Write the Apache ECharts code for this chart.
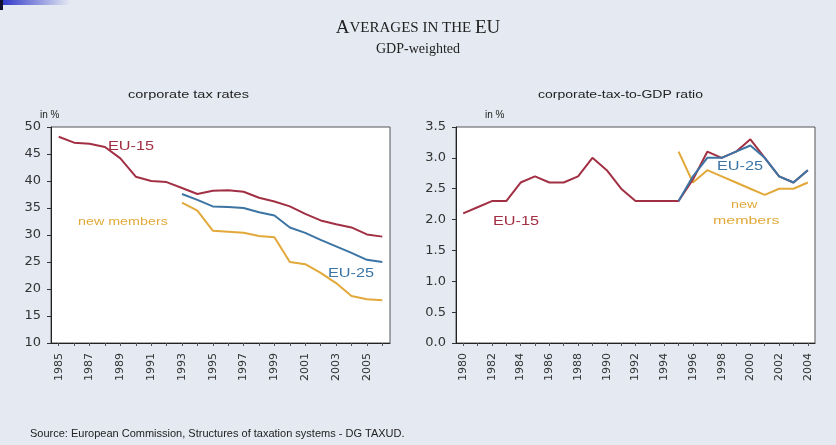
<!DOCTYPE html>
<html><head><meta charset="utf-8">
<script src="https://cdn.jsdelivr.net/npm/echarts@6/dist/echarts.min.js"></script>
<style>html,body{margin:0;padding:0;background:#e4e9f2;}#c{width:836px;height:445px;}</style>
</head><body><div id="c"></div>
<script>
const yearsL = ['1985','1986','1987','1988','1989','1990','1991','1992','1993','1994','1995','1996','1997','1998','1999','2000','2001','2002','2003','2004','2005','2006'];
const eu15Rate = [48.2,47.1,46.9,46.3,44.2,40.8,40.0,39.8,38.7,37.6,38.2,38.3,38.0,36.9,36.2,35.3,33.9,32.7,32.0,31.4,30.1,29.7];
const eu25Rate = [null,null,null,null,null,null,null,null,37.6,36.5,35.3,35.2,35.0,34.2,33.6,31.4,30.4,29.1,27.9,26.7,25.4,25.0];
const newRate  = [null,null,null,null,null,null,null,null,36.0,34.5,30.8,30.6,30.4,29.8,29.6,25.0,24.6,23.0,21.1,18.7,18.1,17.9];

const yearsR = ['1980','1981','1982','1983','1984','1985','1986','1987','1988','1989','1990','1991','1992','1993','1994','1995','1996','1997','1998','1999','2000','2001','2002','2003','2004'];
const eu15Gdp = [2.1,2.2,2.3,2.3,2.6,2.7,2.6,2.6,2.7,3.0,2.8,2.5,2.3,2.3,2.3,2.3,2.65,3.1,3.0,3.1,3.3,3.0,2.7,2.6,2.8];
const eu25Gdp = [null,null,null,null,null,null,null,null,null,null,null,null,null,null,null,2.3,2.7,3.0,3.0,3.1,3.2,3.0,2.7,2.6,2.8];
const newGdp  = [null,null,null,null,null,null,null,null,null,null,null,null,null,null,null,3.1,2.6,2.8,2.7,2.6,2.5,2.4,2.5,2.5,2.6];

const C15 = '#a23044', C25 = '#3c74a4', CNEW = '#e2a93a';
const chart = echarts.init(document.getElementById('c'));
const FONT = 'DejaVu Sans, Liberation Sans, Arial, sans-serif';
function xAxis(idx, data){
  return {type:'category', gridIndex:idx, data:data, boundaryGap:true,
    axisLine:{lineStyle:{color:'#222'}}, axisTick:{show:true, alignWithLabel:true, interval:0, length:3, lineStyle:{color:'#555'}},
    axisLabel:{rotate:90, interval:1, margin:10, color:'#333', fontFamily:FONT, fontSize:11}, splitLine:{show:false}};
}
function yAxis(idx, min, max, step, fmt){
  return {type:'value', gridIndex:idx, min:min, max:max, interval:step,
    axisLine:{show:true, lineStyle:{color:'#222'}}, axisTick:{show:true, length:4, lineStyle:{color:'#333'}},
    axisLabel:{margin:10, color:'#333', fontFamily:FONT, fontSize:13, formatter:fmt}, splitLine:{show:false}};
}
function line(name, data, color, xi, z){
  return {name:name, type:'line', xAxisIndex:xi, yAxisIndex:xi, data:data, symbol:'none', connectNulls:false,
    lineStyle:{color:color, width:2}, itemStyle:{color:color}, z:z};
}
const txt = (x,y,t,s,sx) => ({type:'text', x:x, y:y, scaleX:sx||1, style:Object.assign({text:t, fontFamily:'Liberation Sans, Arial, sans-serif', fontSize:12, fill:'#222', verticalAlign:'middle'}, s||{})});
const serif = 'Liberation Serif, Times New Roman, serif';
chart.setOption({
  backgroundColor:'#e4e9f2',
  animation:false,
  grid:[
    {left:51, top:127, width:339, bottom:102, show:true, backgroundColor:'#ffffff', borderColor:'#555', borderWidth:1},
    {left:456, top:127, width:359, bottom:102, show:true, backgroundColor:'#ffffff', borderColor:'#555', borderWidth:1}
  ],
  xAxis:[xAxis(0, yearsL), xAxis(1, yearsR)],
  yAxis:[yAxis(0, 10, 50, 5, v=>String(v)), yAxis(1, 0, 3.5, 0.5, v=>v.toFixed(1))],
  series:[
    line('EU-15', eu15Rate, C15, 0, 3), line('new members', newRate, CNEW, 0, 2), line('EU-25', eu25Rate, C25, 0, 4),
    line('EU-15', eu15Gdp, C15, 1, 3), line('new members', newGdp, CNEW, 1, 2), line('EU-25', eu25Gdp, C25, 1, 4)
  ],
  graphic:[
    {type:'rect', left:0, top:0, shape:{width:70, height:5}, style:{fill:new echarts.graphic.LinearGradient(0,0,1,0,[{offset:0,color:'#2b33c8'},{offset:1,color:'#e4e9f2'}])}},
    {type:'rect', left:0, top:0, shape:{width:3, height:10}, style:{fill:'#101030'}},
    {type:'text', left:'center', top:19, style:{rich:{b:{fontSize:19, fontFamily:serif, fill:'#222'}, s:{fontSize:15, fontFamily:serif, fill:'#222'}}, text:'{b|A}{s|VERAGES IN THE }{b|EU}'}},
    {type:'text', left:'center', top:42, style:{text:'GDP-weighted', fontSize:14, fontFamily:serif, fill:'#222'}},
    txt(128,95,'corporate tax rates',{fontSize:10},1.45),
    txt(538,95,'corporate-tax-to-GDP ratio',{fontSize:10},1.4),
    txt(40,115,'in %',{fontSize:10}),
    txt(485,115,'in %',{fontSize:10}),
    txt(108,146,'EU-15',{fill:C15, fontSize:13},1.25),
    txt(78,222,'new members',{fill:CNEW, fontSize:11},1.3),
    txt(328,273,'EU-25',{fill:C25, fontSize:13},1.25),
    txt(493,221,'EU-15',{fill:C15, fontSize:13},1.25),
    txt(717,166,'EU-25',{fill:C25, fontSize:13},1.25),
    txt(731,205,'new',{fill:CNEW, fontSize:11},1.3),
    txt(713,221,'members',{fill:CNEW, fontSize:11},1.45),
    txt(30,434,'Source: European Commission, Structures of taxation systems - DG TAXUD.',{fontSize:11})
  ]
});
</script></body></html>
